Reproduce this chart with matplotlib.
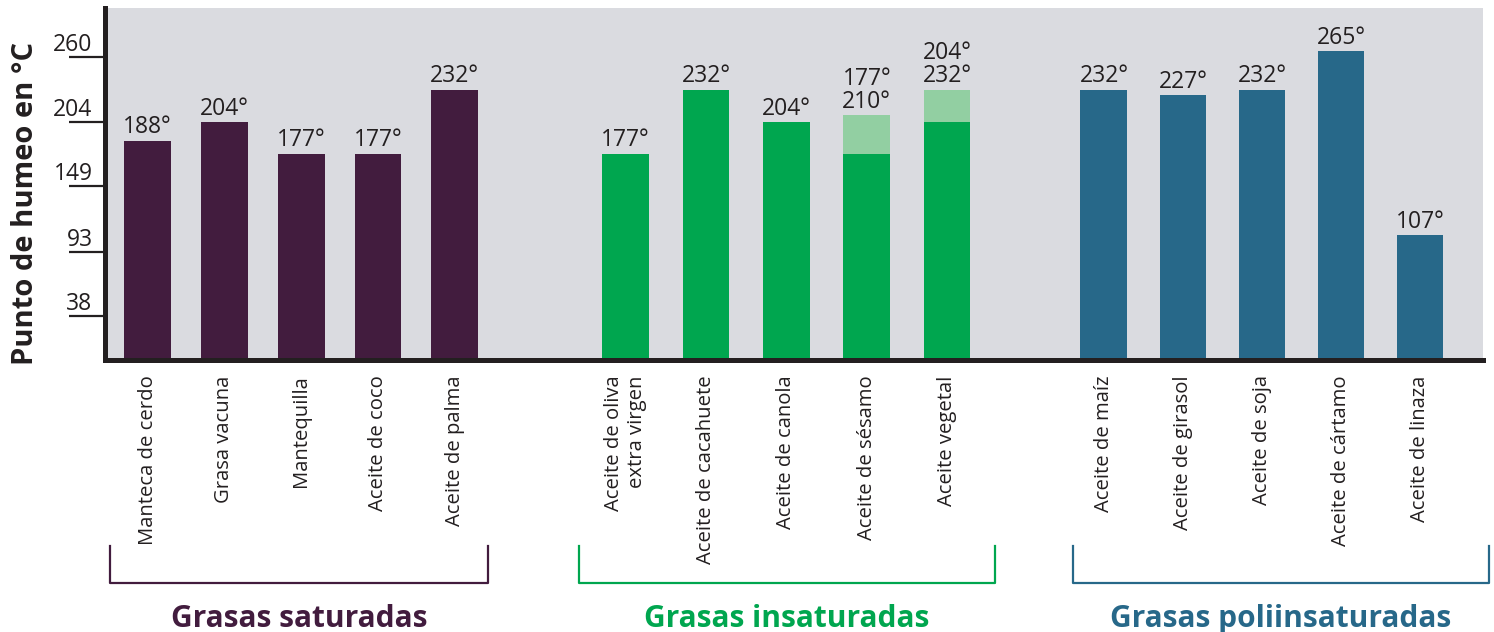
import matplotlib.pyplot as plt
import matplotlib.transforms as mtransforms
import numpy as np

plt.rcParams['font.family'] = ['Open Sans', 'DejaVu Sans']

# Data
groups = ['Grasas saturadas', 'Grasas insaturadas', 'Grasas poliinsaturadas']
group_colors = ['#421c3e', '#00a64f', '#276889']
light_green = '#92cfa2'

labels = [
    ['Manteca de cerdo', 'Grasa vacuna', 'Mantequilla', 'Aceite de coco', 'Aceite de palma'],
    ['Aceite de oliva\nextra virgen', 'Aceite de cacahuete', 'Aceite de canola', 'Aceite de sésamo', 'Aceite vegetal'],
    ['Aceite de maíz', 'Aceite de girasol', 'Aceite de soja', 'Aceite de cártamo', 'Aceite de linaza'],
]
# low end of smoke point range (deg C)
values = [
    [188, 204, 177, 177, 232],
    [177, 232, 204, 177, 204],
    [232, 227, 232, 265, 107],
]
# high end where a range is given (None = single value)
values_high = [
    [None, None, None, None, None],
    [None, None, None, 210, 232],
    [None, None, None, None, None],
]
yticks = [38, 93, 149, 204, 260]

ink = '#231f20'
# layout: group start, bar step inside each group, bracket overhang (x units)
group_start = [0, 6.13, 12.26]
bar_step = [0.985, 1.03, 1.013]
bracket_pad = [(0.48, 0.42), (0.6, 0.62), (0.4, 0.88)]

fig = plt.figure(figsize=(14.94, 6.32), dpi=100)
ax = fig.add_axes([105 / 1494, 1 - 360 / 632, (1483 - 105) / 1494, (360 - 8) / 632])
ax.set_facecolor('#dadbe0')

all_x, all_lab = [], []
trans = mtransforms.blended_transform_factory(ax.transData, fig.transFigure)
for g in range(3):
    xs = group_start[g] + bar_step[g] * np.arange(len(values[g]))
    ax.bar(xs, values[g], width=0.6, color=group_colors[g], zorder=2)
    for x, v, vh in zip(xs, values[g], values_high[g]):
        if vh is None:
            ax.annotate('%d°' % v, (x, v), xytext=(0, 1), textcoords='offset points',
                        ha='center', va='bottom', fontsize=16.5, color=ink)
        else:
            ax.bar(x, vh - v, bottom=v, width=0.6, color=light_green, zorder=2)
            ax.annotate('%d°\n%d°' % (v, vh), (x, vh), xytext=(0, 1), textcoords='offset points',
                        ha='center', va='bottom', fontsize=16.5, color=ink, linespacing=0.95)
    all_x.extend(xs)
    all_lab.extend(labels[g])

    # bracket and group title below the labels
    x0, x1 = xs[0] - bracket_pad[g][0], xs[-1] + bracket_pad[g][1]
    y_top, y_bot = 1 - 546 / 632, 1 - 583 / 632
    ax.plot([x0, x0, x1, x1], [y_top, y_bot, y_bot, y_top], color=group_colors[g],
            lw=1.6, transform=trans, clip_on=False)
    ax.text((x0 + x1) / 2, 1 - 627 / 632, groups[g], transform=trans, ha='center',
            va='baseline', fontsize=21.5, fontweight='bold', color=group_colors[g])

ax.set_xticks(all_x)
ax.set_xticklabels(all_lab, rotation=90)
ax.tick_params(axis='x', length=0, pad=11, labelsize=14.6, labelcolor=ink)
for lbl in ax.get_xticklabels():
    lbl.set_multialignment('right')

ax.set_xlim(-0.545, 17.12)
ax.set_ylim(0, 302)

ax.set_yticks(yticks)
ax.set_yticklabels([str(t) for t in yticks])
ax.tick_params(axis='y', length=26, width=1.6, color=ink, pad=-17,
               labelsize=16.5, labelcolor=ink)
for lbl in ax.get_yticklabels():
    lbl.set_va('bottom')

for side in ['top', 'right']:
    ax.spines[side].set_visible(False)
for side in ['left', 'bottom']:
    ax.spines[side].set_linewidth(3.6)
    ax.spines[side].set_color(ink)
    ax.spines[side].set_zorder(3)

fig.text(26 / 1494, 1 - 203 / 632, 'Punto de humeo en °C', rotation=90, ha='center',
         va='center', fontsize=21, fontweight='bold', color=ink)

plt.savefig('out.png', dpi=100)
